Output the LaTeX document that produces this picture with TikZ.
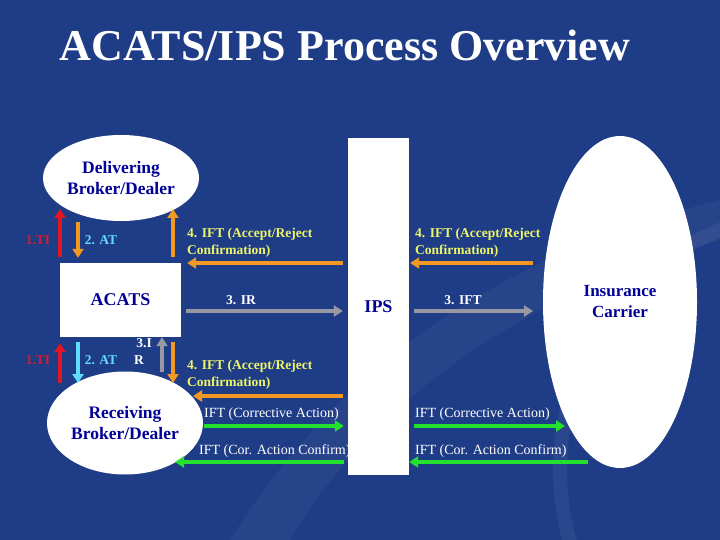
\documentclass[tikz,border=0pt]{standalone}
\usepackage{fontspec}
\setmainfont{Liberation Serif}
\usetikzlibrary{shapes.geometric,arrows.meta}
\definecolor{bgblue}{RGB}{31,61,135}
\definecolor{txtblue}{RGB}{0,0,150}
\definecolor{lblyellow}{RGB}{238,245,105}
\definecolor{flworange}{RGB}{242,152,35}
\definecolor{flwgray}{RGB}{152,152,162}
\definecolor{flwgreen}{RGB}{35,225,45}
\definecolor{flwred}{RGB}{228,20,35}
\definecolor{flwcyan}{RGB}{95,220,255}
\definecolor{tired}{RGB}{205,30,50}
\begin{document}
\begin{tikzpicture}[x=1pt,y=-1pt,
    party/.style={ellipse,fill=white,inner sep=0pt,text=txtblue,align=center,
      font=\fontsize{17.5}{21}\selectfont\bfseries},
    sysbox/.style={rectangle,fill=white,inner sep=0pt,text=txtblue,
      font=\fontsize{18}{21}\selectfont\bfseries},
    flow/.style={line width=4pt,-{Triangle[length=9pt,width=11pt]}},
    ylbl/.style={anchor=west,inner sep=0pt,text=lblyellow,align=left,
      font=\fontsize{13.5}{17}\selectfont\bfseries},
    wlbl/.style={anchor=west,inner sep=0pt,text=white,
      font=\fontsize{14}{17}\selectfont},
    blbl/.style={inner sep=0pt,font=\fontsize{13.5}{17}\selectfont\bfseries}]
  \useasboundingbox (0,0) rectangle (720,540);
  \fill[bgblue] (0,0) rectangle (720,540);
  % faint swooshes of the slide background
  \fill[white,opacity=0.04] (230,540) .. controls (330,380) and (480,260) .. (720,200)
    -- (720,240) .. controls (500,300) and (360,420) .. (290,540) -- cycle;
  \draw[white,opacity=0.05,line width=14pt] (820,470) circle (260);

  % title
  \node[text=white,font=\fontsize{44}{50}\selectfont\bfseries] (ttl) at (345,45) {ACATS/IPS Process Overview};

  % parties and systems
  \node[party,minimum width=156pt,minimum height=86pt] (deliv) at (121,178) {Delivering\\Broker/Dealer};
  \node[party,minimum width=156pt,minimum height=103pt] (recv) at (125,423) {Receiving\\Broker/Dealer};
  \node[party,minimum width=154pt,minimum height=332pt,font=\fontsize{17}{21}\selectfont\bfseries] (carrier) at (620,302) {Insurance\\Carrier};
  \node[sysbox,minimum width=121pt,minimum height=74pt] (acats) at (120.5,300) {ACATS};
  \node[sysbox,minimum width=61pt,minimum height=337pt] (ips) at (378.5,306.5) {IPS};

  % rows and columns of the flows
  \coordinate (dtip) at (0,209);
  \coordinate (dfoot) at (0,222);
  \coordinate (rtip) at (0,383);
  \coordinate (rtop) at (0,263);
  \coordinate (rmid) at (0,311);
  \coordinate (rlow) at (0,396);
  \coordinate (rca) at (0,426);
  \coordinate (rcc) at (0,462);
  \coordinate (cti) at (60,0);
  \coordinate (cat) at (78,0);
  \coordinate (cir) at (162,0);
  \coordinate (cift) at (173,0);

  % upper flows
  \draw[flow,flwred,shorten <=6pt] (cti |- acats.north) -- (cti |- dtip);
  \draw[flow,flworange,shorten >=5pt] (cat |- dfoot) -- (cat |- acats.north);
  \draw[flow,flworange,shorten <=6pt] (cift |- acats.north) -- (cift |- dtip);
  \draw[flow,flworange,shorten <=5pt,shorten >=6pt] (ips.west |- rtop) -- (acats.east |- rtop);
  \draw[flow,flwgray,shorten <=5pt,shorten >=5pt] (acats.east |- rmid) -- (ips.west |- rmid);
  \draw[flow,flworange,shorten >=1pt] (533,263) -- (ips.east |- rtop);
  \draw[flow,flwgray,shorten <=5pt] (ips.east |- rmid) -- (533,311);

  % lower flows
  \draw[flow,flwred,shorten >=6pt] (cti |- rtip) -- (cti |- acats.south);
  \draw[flow,flwcyan,shorten <=5pt] (cat |- acats.south) -- (cat |- rtip);
  \draw[flow,flwgray,shorten <=1pt] (cir |- 0,373) -- (cir |- acats.south);
  \draw[flow,flworange,shorten <=5pt] (cift |- acats.south) -- (cift |- rtip);
  \draw[flow,flworange,shorten <=5pt] (ips.west |- rlow) -- (193,396);
  \draw[flow,flwgreen,shorten >=4pt] (204,426) -- (ips.west |- rca);
  \draw[flow,flwgreen,shorten <=4pt] (ips.west |- rcc) -- (175,462);
  \draw[flow,flwgreen,shorten <=5pt] (ips.east |- rca) -- (565,426);
  \draw[flow,flwgreen] (588,462) -- (ips.east |- rcc);

  % labels
  \node[blbl,text=tired] (ti1) at (38,240) {1.TI};
  \node[blbl,text=flwcyan] (at1) at (101,240) {2. AT};
  \node[blbl,text=tired] (ti2) at (38,360) {1.TI};
  \node[blbl,text=flwcyan] (at2) at (101,360) {2. AT};
  \node[blbl,text=white,anchor=west,align=left] (ir2) at (134,352) {\,3.I\\R};
  \node[ylbl] (ift1) at (187,243) {4. IFT (Accept/Reject\\Confirmation)};
  \node[ylbl] (ift2) at (415,243) {4. IFT (Accept/Reject\\Confirmation)};
  \node[ylbl] (ift3) at (187,375) {4. IFT (Accept/Reject\\Confirmation)};
  \node[blbl,text=white] (ir1) at (241,300) {3. IR};
  \node[blbl,text=white] (ift4) at (463,300) {3. IFT};
  \node[wlbl] (ca1) at (204,414) {IFT (Corrective Action)};
  \node[wlbl] (cc1) at (199,451) {IFT (Cor. Action Confirm)};
  \node[wlbl] (ca2) at (415,414) {IFT (Corrective Action)};
  \node[wlbl] (cc2) at (415,451) {IFT (Cor. Action Confirm)};
\end{tikzpicture}
\end{document}
